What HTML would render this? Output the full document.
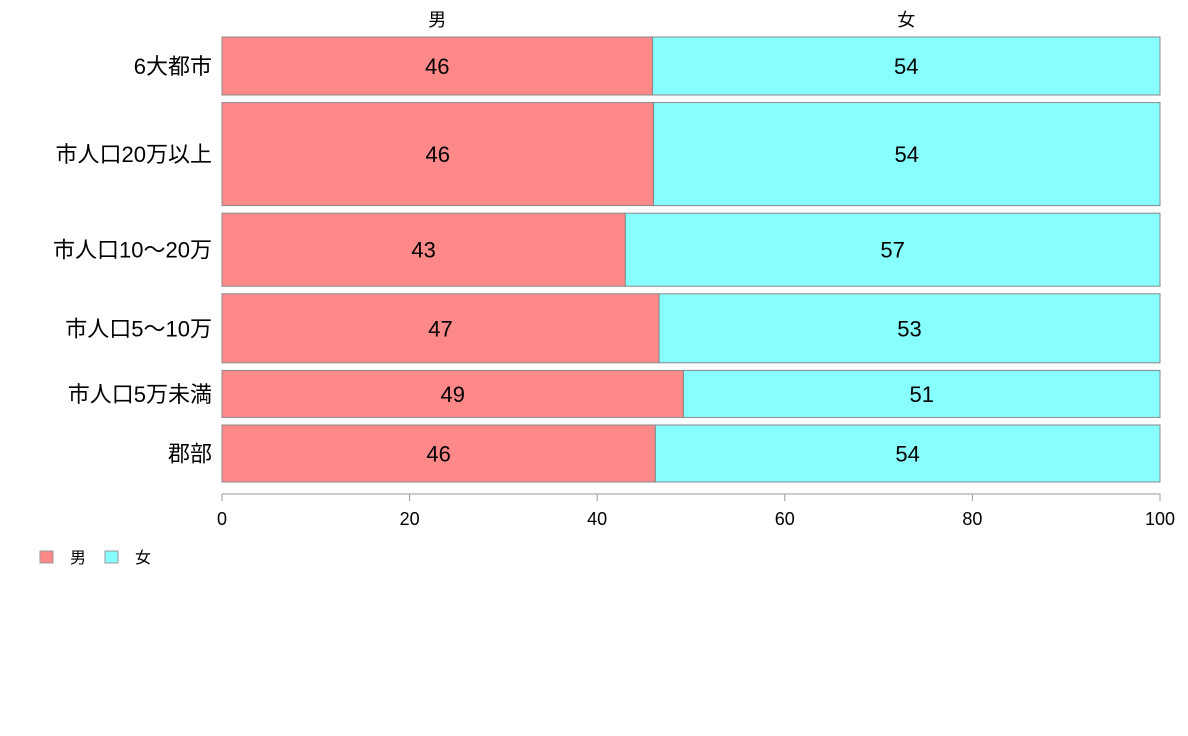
<!DOCTYPE html>
<html><head><meta charset="utf-8">
<style>
body{margin:0;background:#fff;}
svg{display:block;font-family:"Liberation Sans","Noto Sans CJK JP",sans-serif;}
</style></head>
<body>
<svg id="chart" width="1188" height="736"></svg>
<script>
const categories=["6大都市","市人口20万以上","市人口10～20万","市人口5～10万","市人口5万未満","郡部"];
const maleValues=[45.9,46.0,43.0,46.6,49.2,46.2];
const rowWeights=[58,103,73,69,47,57];
const tickLabels=[0,20,40,60,80,100];
const seriesNames=["男","女"];

const NS="http://www.w3.org/2000/svg";
const svg=document.getElementById("chart");
const X0=222,X1=1160,YTOP=37,YBOT=482,GAP=7.6;
function xs(v){return X0+(v/100)*(X1-X0);}
const totalW=rowWeights.reduce((a,b)=>a+b,0);
const avail=(YBOT-YTOP)-GAP*(categories.length-1);
function mk(tag,attrs,text){const e=document.createElementNS(NS,tag);for(const k in attrs)e.setAttribute(k,attrs[k]);if(text!==undefined)e.textContent=text;svg.appendChild(e);return e;}

let y=YTOP;
categories.forEach((c,i)=>{
  const h=avail*rowWeights[i]/totalW;
  const m=maleValues[i], f=100-m;
  const r1=mk("rect",{x:xs(0),y:y,width:xs(m)-xs(0),height:h,fill:"#ff8888",stroke:"#888","stroke-width":1});
  
  
  const r2=mk("rect",{x:xs(m),y:y,width:xs(100)-xs(m),height:h,fill:"#88ffff",stroke:"#888","stroke-width":1});
  
  
  const cy=y+h/2+8;
  const t1=mk("text",{x:(xs(0)+xs(m))/2,y:cy,"text-anchor":"middle","font-size":22},String(Math.round(m)));
  
  
  const t2=mk("text",{x:(xs(m)+xs(100))/2,y:cy,"text-anchor":"middle","font-size":22},String(Math.round(f)));
  
  
  const cl=mk("text",{x:212,y:cy,"text-anchor":"end","font-size":22},c);
  
  
  if(i===0){
    const h1=mk("text",{x:(xs(0)+xs(m))/2,y:26,"text-anchor":"middle","font-size":18},seriesNames[0]);
    
    
    const h2=mk("text",{x:(xs(m)+xs(100))/2,y:26,"text-anchor":"middle","font-size":18},seriesNames[1]);
    
    
  }
  y+=h+GAP;
});
const ax=mk("line",{x1:xs(0),x2:xs(100),y1:494,y2:494,stroke:"#999","stroke-width":1});


tickLabels.forEach(t=>{
  const tk=mk("line",{x1:xs(t),x2:xs(t),y1:494,y2:501,stroke:"#999","stroke-width":1});
  
  
  const tl=mk("text",{x:xs(t),y:525,"text-anchor":"middle","font-size":18},String(t));
  
  
});
const legendColors=["#ff8888","#88ffff"];
const legendX=[40,105];
seriesNames.forEach((s,i)=>{
  const sq=mk("rect",{x:legendX[i],y:551,width:13,height:12,fill:legendColors[i],stroke:"#999","stroke-width":1});
  
  
  const lt=mk("text",{x:legendX[i]+30,y:563,"font-size":16},s);
  
  
});
</script>
</body></html>
